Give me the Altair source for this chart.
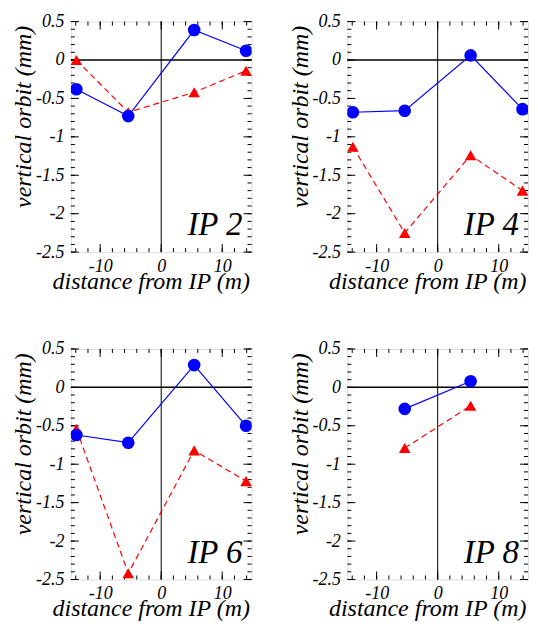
import altair as alt
import pandas as pd

# ---- data ----
PANEL_NAMES = ["IP 2", "IP 4", "IP 6", "IP 8"]

IP2_X = [-13.9, -5.4, 5.4, 13.9]
IP2_BLUE = [-0.38, -0.73, 0.39, 0.12]
IP2_RED = [0.00, -0.68, -0.42, -0.14]

IP4_X = [-13.9, -5.4, 5.4, 13.9]
IP4_BLUE = [-0.68, -0.66, 0.06, -0.64]
IP4_RED = [-1.13, -2.25, -1.24, -1.70]

IP6_X = [-13.9, -5.4, 5.4, 13.9]
IP6_BLUE = [-0.62, -0.72, 0.29, -0.50]
IP6_RED = [-0.54, -2.42, -0.82, -1.22]

IP8_X = [-5.4, 5.4]
IP8_BLUE = [-0.28, 0.08]
IP8_RED = [-0.79, -0.24]

X_LABELS = [-10, 0, 10]
Y_LABELS = [-2.5, -2, -1.5, -1, -0.5, 0, 0.5]
X_MINOR = [-14, -12, -10, -8, -6, -4, -2, 0, 2, 4, 6, 8, 10, 12, 14]
Y_MINOR = [round(-2.5 + 0.1 * i, 1) for i in range(31)]

# ---- layout / style ----
W, H = 181, 231
XDOM = [-14.8, 14.8]
YDOM = [-2.5, 0.5]
FONT = "Liberation Serif"
BLUE = "#0000ff"
RED = "#ff0000"
MAJ, MIN = 8, 4


def panel(name, xs, blue, red):
    xsc = alt.Scale(domain=XDOM, nice=False, zero=False)
    ysc = alt.Scale(domain=YDOM, nice=False, zero=False)
    xax = alt.Axis(
        values=X_LABELS, title="distance from IP (m)", grid=False, ticks=False,
        domain=False, labelFont=FONT, labelFontStyle="italic", labelFontSize=18,
        labelColor="black", labelPadding=5, labelExpr="toString(datum.value)",
        titleFont=FONT, titleFontStyle="italic", titleFontWeight="normal",
        titleFontSize=24, titleColor="black", titleX=80, titleY=36,
        titleBaseline="alphabetic", titleAlign="center",
    )
    yax = alt.Axis(
        values=Y_LABELS, title="vertical orbit (mm)", grid=False, ticks=False,
        domain=False, labelFont=FONT, labelFontStyle="italic", labelFontSize=18,
        labelColor="black", labelPadding=7, labelExpr="toString(datum.value)",
        titleFont=FONT, titleFontStyle="italic", titleFontWeight="normal",
        titleFontSize=24, titleColor="black", titleX=-40, titleY=95,
        titleBaseline="alphabetic", titleAlign="center", titleAngle=270,
    )
    X = alt.X("x:Q", scale=xsc, axis=xax)
    Y = alt.Y("y:Q", scale=ysc, axis=yax)

    d_blue = pd.DataFrame({"x": xs, "y": blue})
    d_red = pd.DataFrame({"x": xs, "y": red})
    d_x0 = pd.DataFrame({"x": [0]})
    d_y0 = pd.DataFrame({"y": [0]})
    d_xmaj = pd.DataFrame({"x": X_LABELS})
    d_xmin = pd.DataFrame({"x": X_MINOR})
    d_ymaj = pd.DataFrame({"y": Y_LABELS})
    d_ymin = pd.DataFrame({"y": Y_MINOR})
    d_lab = pd.DataFrame({"label": [name]})

    layers = []
    # zero lines
    layers.append(alt.Chart(d_y0).mark_rule(color="black", strokeWidth=1.5).encode(y=Y))
    layers.append(alt.Chart(d_x0).mark_rule(color="black", strokeWidth=1).encode(x=X))
    # inward ticks on all four sides
    for d, ln in ((d_xmaj, MAJ), (d_xmin, MIN)):
        layers.append(alt.Chart(d).mark_rule(color="black", strokeWidth=1).encode(
            x=X, y=alt.value(H), y2=alt.value(H - ln)))
        layers.append(alt.Chart(d).mark_rule(color="black", strokeWidth=1).encode(
            x=X, y=alt.value(0), y2=alt.value(ln)))
    for d, ln in ((d_ymaj, MAJ), (d_ymin, MIN)):
        layers.append(alt.Chart(d).mark_rule(color="black", strokeWidth=1).encode(
            y=Y, x=alt.value(0), x2=alt.value(ln)))
        layers.append(alt.Chart(d).mark_rule(color="black", strokeWidth=1).encode(
            y=Y, x=alt.value(W), x2=alt.value(W - ln)))
    # series
    layers.append(alt.Chart(d_red).mark_line(color=RED, strokeWidth=1.2, clip=True,
                                            strokeDash=[6, 4]).encode(x=X, y=Y))
    layers.append(alt.Chart(d_red).mark_point(shape="triangle-up", filled=True, size=135,
                                             clip=True, color=RED, opacity=1).encode(x=X, y=Y))
    layers.append(alt.Chart(d_blue).mark_line(color=BLUE, strokeWidth=1.2, clip=True
                                             ).encode(x=X, y=Y))
    layers.append(alt.Chart(d_blue).mark_point(shape="circle", filled=True, size=160,
                                              clip=True, color=BLUE, opacity=1).encode(x=X, y=Y))
    # panel label
    layers.append(alt.Chart(d_lab).mark_text(
        align="right", baseline="alphabetic", font=FONT, fontSize=33,
        fontStyle="italic", color="black").encode(
        x=alt.value(W - 9), y=alt.value(H - 17), text="label:N"))

    return alt.layer(*layers).properties(width=W, height=H)


panels = [
    panel(PANEL_NAMES[0], IP2_X, IP2_BLUE, IP2_RED),
    panel(PANEL_NAMES[1], IP4_X, IP4_BLUE, IP4_RED),
    panel(PANEL_NAMES[2], IP6_X, IP6_BLUE, IP6_RED),
    panel(PANEL_NAMES[3], IP8_X, IP8_BLUE, IP8_RED),
]

chart = alt.concat(
    *panels, columns=2, spacing={"row": 97, "column": 96}, bounds="flush"
).properties(
    padding={"left": 3, "top": 3, "right": 0, "bottom": 0}
).configure_view(
    stroke="black", strokeWidth=1.5, fill="white"
).configure(background="white")

chart.save("out.html", embed_options={"renderer": "svg", "actions": False})
